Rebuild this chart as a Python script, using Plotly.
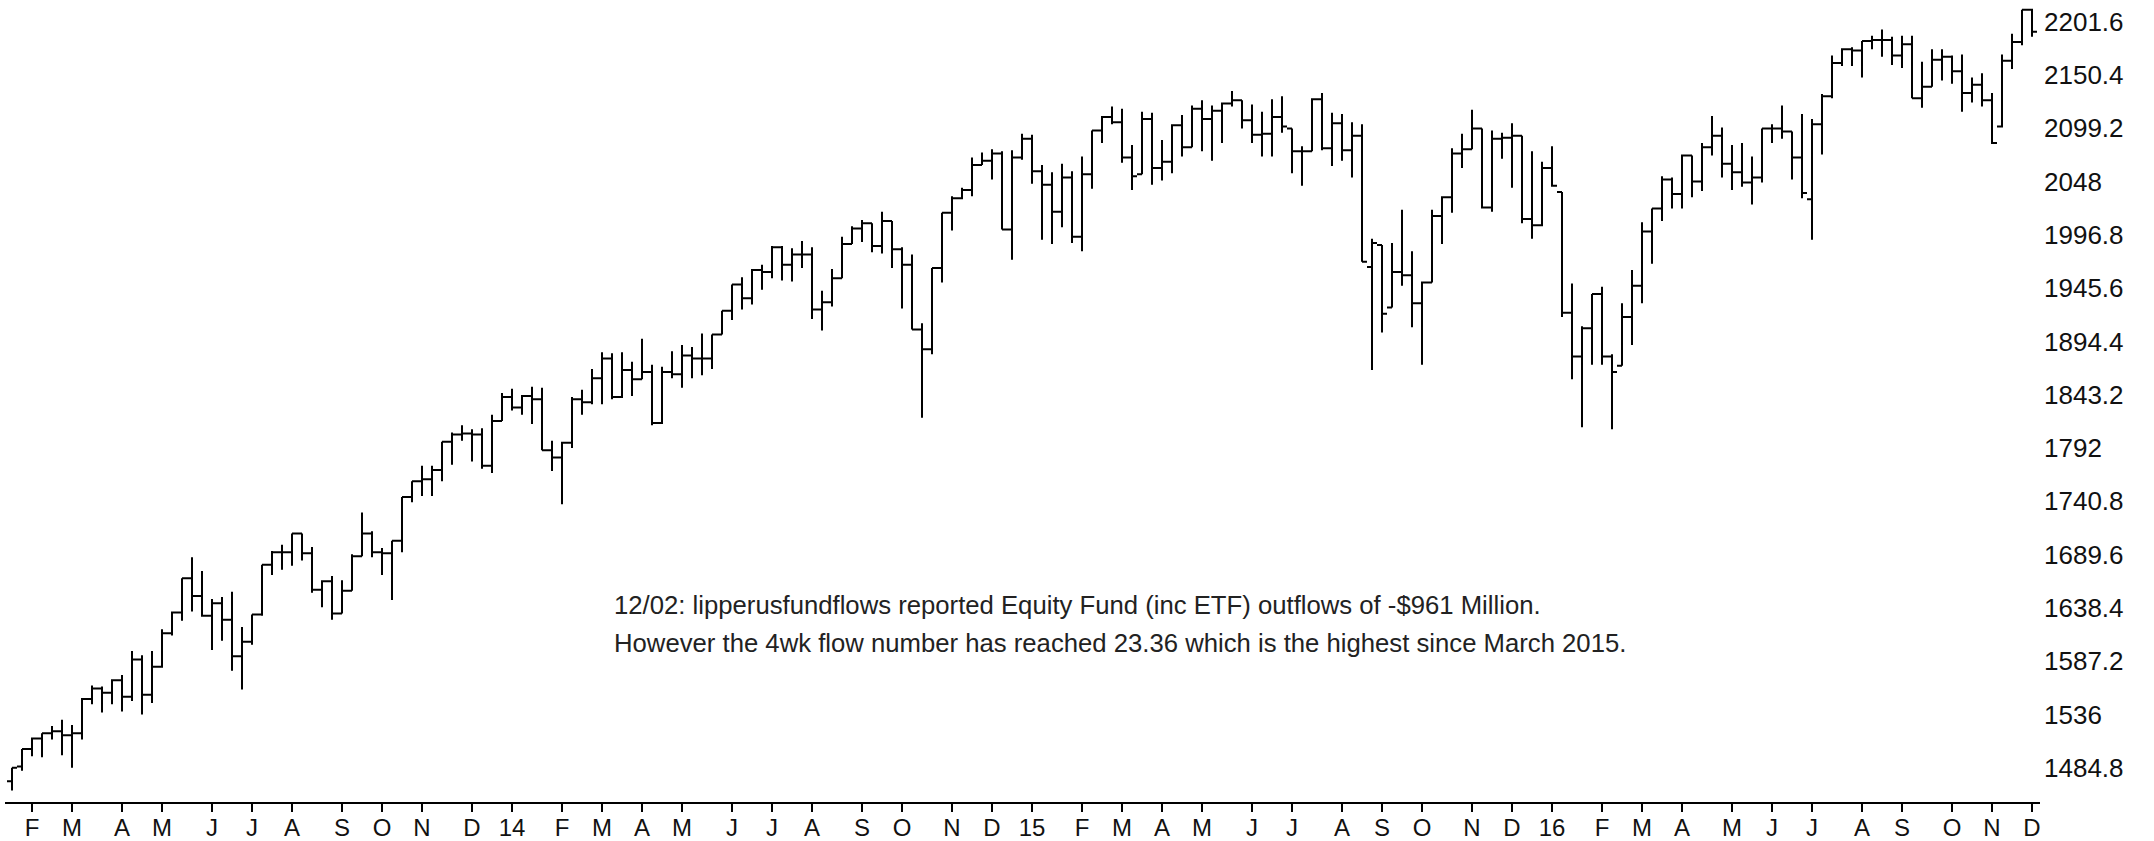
import pandas as pd
import plotly.graph_objects as go

# Weekly bars (week-ending Fridays)
first_week = "2013-01-18"
n_weeks = 203
week_end = pd.date_range(first_week, periods=n_weeks, freq="7D")

opens = [1472,1486,1503,1513,1518,1520,1516,1518,1551,1561,1557,1569,1553,1589,1555,1582,1614,1634,1667,1650,
         1631,1643,1627,1592,1606,1632,1680,1692,1692,1710,1691,1656,1664,1633,1655,1688,1710,1692,1691,1703,
         1745,1760,1762,1771,1798,1805,1806,1805,1775,1818,1841,1831,1842,1839,1790,1783,1797,1839,1836,1859,
         1878,1841,1867,1858,1865,1816,1865,1863,1881,1878,1878,1901,1924,1949,1936,1963,1961,1985,1968,1978,
         1978,1925,1932,1955,1988,2003,2008,1986,2010,1983,1968,1906,1887,1965,2018,2032,2040,2064,2068,2075,
         2002,2071,2089,2058,2045,2019,2052,1995,2055,2097,2110,2105,2071,2055,2108,2061,2067,2102,2081,2118,
         2108,2116,2123,2126,2107,2093,2094,2110,2099,2077,2077,2127,2080,2104,2078,2092,1966,1987,1927,1961,
         1958,1931,1951,2015,2033,2075,2079,2099,2023,2089,2090,2092,2012,2006,2061,2038,1922,1880,1907,1940,
         1880,1871,1918,1948,2000,2022,2050,2036,2073,2048,2081,2092,2065,2057,2047,2052,2099,2099,2096,2071,
         2031,2103,2130,2162,2175,2174,2183,2184,2184,2169,2180,2128,2139,2165,2168,2154,2133,2141,2126,2101,
         2164,2182,2213]
highs = [1485,1503,1514,1518,1525,1531,1526,1552,1564,1563,1570,1574,1597,1593,1597,1618,1635,1667,1687,1674,
         1647,1649,1654,1620,1632,1680,1693,1699,1710,1710,1697,1665,1669,1665,1690,1730,1712,1696,1703,1745,
         1760,1775,1775,1798,1807,1814,1810,1811,1824,1845,1849,1843,1851,1850,1799,1798,1841,1848,1868,1884,
         1883,1884,1875,1897,1872,1870,1885,1891,1889,1902,1901,1924,1949,1956,1964,1968,1986,1986,1984,1991,
         1985,1943,1964,1995,2005,2011,2008,2019,2010,1985,1978,1912,1965,2018,2034,2042,2071,2076,2079,2077,
         2078,2094,2093,2064,2057,2065,2058,2072,2097,2111,2120,2118,2083,2115,2114,2088,2103,2112,2121,2126,
         2121,2124,2135,2126,2122,2115,2127,2130,2099,2082,2128,2133,2114,2113,2105,2103,1993,1987,1989,2021,
         1981,1952,2021,2034,2080,2094,2117,2099,2097,2095,2104,2092,2077,2067,2082,2038,1950,1909,1940,1947,
         1882,1931,1963,2009,2022,2053,2052,2074,2073,2085,2111,2100,2083,2085,2072,2099,2103,2121,2096,2113,
         2108,2132,2169,2176,2177,2183,2188,2194,2187,2188,2188,2163,2175,2175,2169,2170,2148,2152,2133,2170,
         2190,2213,2214]
lows = [1463,1482,1496,1495,1512,1497,1485,1512,1546,1538,1546,1539,1549,1536,1547,1581,1612,1626,1635,1630,
        1598,1607,1578,1560,1603,1631,1670,1675,1679,1684,1653,1639,1627,1633,1655,1688,1687,1670,1646,1692,
        1740,1746,1746,1760,1776,1799,1779,1772,1768,1818,1828,1824,1815,1790,1770,1738,1792,1824,1834,1834,
        1839,1840,1842,1858,1814,1815,1859,1850,1859,1862,1868,1901,1915,1925,1930,1944,1955,1953,1952,1965,
        1916,1905,1928,1955,1988,1990,1980,1979,1965,1926,1906,1821,1882,1951,2001,2031,2034,2064,2050,2002,
        1973,2069,2046,1992,1988,2004,1989,1981,2041,2085,2103,2066,2040,2055,2045,2049,2056,2072,2081,2077,
        2068,2085,2120,2099,2085,2072,2072,2095,2056,2044,2077,2078,2063,2068,2052,1971,1867,1903,1927,1948,
        1908,1872,1951,1988,2018,2061,2079,2022,2019,2070,2042,2008,1993,2005,2043,1918,1858,1812,1872,1872,
        1810,1871,1891,1931,1969,2010,2022,2022,2033,2039,2073,2052,2040,2043,2026,2047,2085,2089,2050,2032,
        1992,2074,2128,2159,2159,2148,2175,2168,2160,2157,2128,2119,2139,2145,2142,2115,2124,2120,2084,2100,
        2156,2179,2187]
closes = [1485,1503,1513,1518,1520,1516,1518,1551,1561,1557,1569,1553,1589,1555,1582,1614,1634,1667,1650,1631,
          1643,1627,1592,1606,1632,1680,1692,1692,1710,1691,1656,1664,1633,1655,1688,1710,1692,1691,1703,1745,
          1760,1762,1771,1798,1805,1806,1805,1775,1818,1841,1831,1842,1839,1790,1783,1797,1839,1836,1859,1878,
          1841,1867,1858,1865,1816,1865,1863,1881,1878,1878,1901,1924,1949,1936,1963,1961,1985,1968,1978,1978,
          1925,1932,1955,1988,2003,2008,1986,2010,1983,1968,1906,1887,1965,2018,2032,2040,2064,2068,2075,2002,
          2071,2089,2058,2045,2019,2052,1995,2055,2097,2110,2105,2071,2053,2108,2061,2067,2102,2081,2118,2108,
          2116,2123,2126,2107,2093,2094,2110,2101,2077,2077,2127,2080,2104,2078,2092,1971,1989,1921,1961,1958,
          1931,1951,2015,2033,2075,2079,2099,2023,2089,2090,2092,2012,2006,2061,2044,1922,1880,1907,1940,1880,
          1865,1918,1948,2000,2022,2050,2036,2073,2048,2081,2092,2065,2057,2047,2052,2099,2099,2096,2071,2037,
          2103,2130,2162,2175,2174,2183,2184,2184,2169,2180,2128,2139,2165,2168,2154,2133,2141,2126,2085,2164,
          2182,2213,2192]

y_tick_values = [1484.8, 1536, 1587.2, 1638.4, 1689.6, 1740.8, 1792, 1843.2, 1894.4,
                 1945.6, 1996.8, 2048, 2099.2, 2150.4, 2201.6]
y_tick_labels = ["1484.8", "1536", "1587.2", "1638.4", "1689.6", "1740.8", "1792", "1843.2",
                 "1894.4", "1945.6", "1996.8", "2048", "2099.2", "2150.4", "2201.6"]
month_letters = ["J", "F", "M", "A", "M", "J", "J", "A", "S", "O", "N", "D"]

note_line1 = "12/02: lipperusfundflows reported Equity Fund (inc ETF) outflows of -$961 Million."
note_line2 = "However the 4wk flow number has reached 23.36 which is the highest since March 2015."

# month ticks: first weekly bar ending in each month
tick_vals, tick_text = [], []
seen = set()
for d in week_end:
    key = (d.year, d.month)
    if key in seen:
        continue
    seen.add(key)
    if d == week_end[0]:
        continue
    tick_vals.append(d)
    tick_text.append(str(d.year)[2:] if d.month == 1 else month_letters[d.month - 1])

fig = go.Figure(go.Ohlc(
    x=week_end, open=opens, high=highs, low=lows, close=closes,
    increasing=dict(line=dict(color="black", width=2)),
    decreasing=dict(line=dict(color="black", width=2)),
    tickwidth=0.5, hoverinfo="skip", showlegend=False,
))

x_start = week_end[0] - pd.Timedelta(days=4.9)
x_end = x_start + pd.Timedelta(days=1424.5)

font_family = "Liberation Sans, Arial, sans-serif"
fig.update_layout(
    template="none",
    width=2154, height=841,
    margin=dict(l=5, r=114, t=0, b=39, pad=0),
    paper_bgcolor="white", plot_bgcolor="white",
    showlegend=False, hovermode=False,
    xaxis=dict(
        type="date", range=[x_start, x_end], automargin=False,
        rangeslider=dict(visible=False),
        showgrid=False, zeroline=False,
        showline=True, linecolor="black", linewidth=2,
        ticks="outside", ticklen=8, tickwidth=1.5, tickcolor="black",
        tickvals=tick_vals, ticktext=tick_text,
        tickfont=dict(family=font_family, size=24, color="#111"),
        ticklabelstandoff=-5,
    ),
    yaxis=dict(
        range=[1452.0, 2222.4], side="right", automargin=False,
        showgrid=False, zeroline=False, showline=False, ticks="",
        tickvals=y_tick_values, ticktext=y_tick_labels,
        tickfont=dict(family=font_family, size=26, color="#111"),
        ticklabelstandoff=3,
    ),
    annotations=[
        dict(text=note_line1, xref="paper", yref="paper",
             x=(612 - 5) / 2035, y=(802 - 604.5) / 802, xanchor="left", yanchor="middle",
             showarrow=False, font=dict(family=font_family, size=25.7, color="#222")),
        dict(text=note_line2, xref="paper", yref="paper",
             x=(612 - 5) / 2035, y=(802 - 643) / 802, xanchor="left", yanchor="middle",
             showarrow=False, font=dict(family=font_family, size=25.7, color="#222")),
    ],
)

fig.write_html(
    "out.html",
    config={"displayModeBar": False, "staticPlot": True},
    post_script="document.body.style.margin='0';document.body.style.overflow='hidden';",
)
